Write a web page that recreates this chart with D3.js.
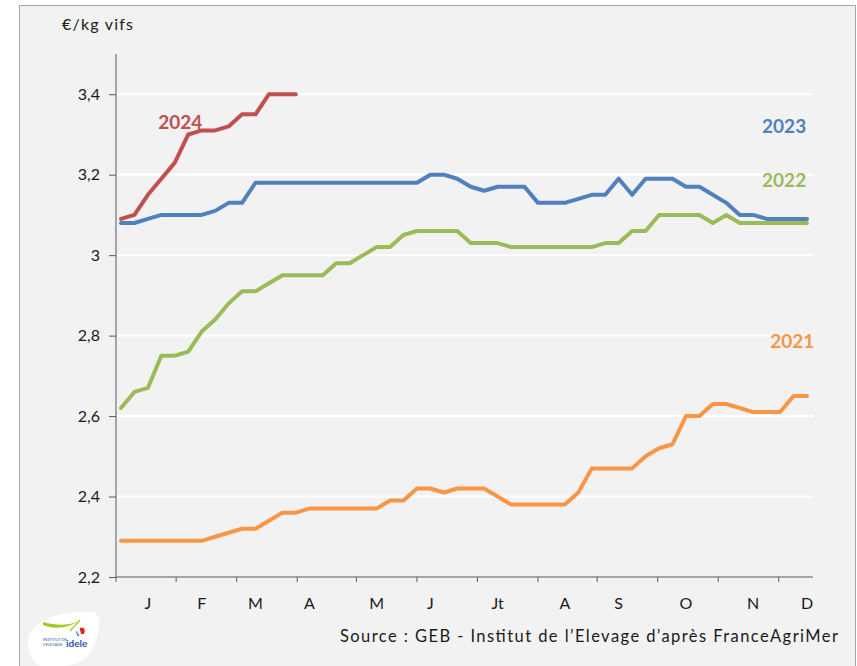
<!DOCTYPE html>
<html lang="fr">
<head>
<meta charset="UTF-8">
<title>Prix €/kg vifs</title>
<style>
  body { margin: 0; background: #fff; }
  svg { display: block; }
  text { font-family: Lato, "Open Sans", sans-serif; fill: #1a1a1a; }
</style>
<script src="https://d3js.org/d3.v7.min.js"></script>
</head>
<body>
<div id="chart"></div>
<script>
// weekly prices, week 1..52
const s2021 = [2.29, 2.29, 2.29, 2.29, 2.29, 2.29, 2.29, 2.30, 2.31, 2.32, 2.32, 2.34, 2.36, 2.36,
  2.37, 2.37, 2.37, 2.37, 2.37, 2.37, 2.39, 2.39, 2.42, 2.42, 2.41, 2.42, 2.42, 2.42, 2.40,
  2.38, 2.38, 2.38, 2.38, 2.38, 2.41, 2.47, 2.47, 2.47, 2.47, 2.50, 2.52, 2.53, 2.60, 2.60,
  2.63, 2.63, 2.62, 2.61, 2.61, 2.61, 2.65, 2.65];
const s2022 = [2.62, 2.66, 2.67, 2.75, 2.75, 2.76, 2.81, 2.84, 2.88, 2.91, 2.91, 2.93, 2.95, 2.95,
  2.95, 2.95, 2.98, 2.98, 3.00, 3.02, 3.02, 3.05, 3.06, 3.06, 3.06, 3.06, 3.03, 3.03, 3.03,
  3.02, 3.02, 3.02, 3.02, 3.02, 3.02, 3.02, 3.03, 3.03, 3.06, 3.06, 3.10, 3.10, 3.10, 3.10,
  3.08, 3.10, 3.08, 3.08, 3.08, 3.08, 3.08, 3.08];
const s2023 = [3.08, 3.08, 3.09, 3.10, 3.10, 3.10, 3.10, 3.11, 3.13, 3.13, 3.18, 3.18, 3.18, 3.18,
  3.18, 3.18, 3.18, 3.18, 3.18, 3.18, 3.18, 3.18, 3.18, 3.20, 3.20, 3.19, 3.17, 3.16, 3.17,
  3.17, 3.17, 3.13, 3.13, 3.13, 3.14, 3.15, 3.15, 3.19, 3.15, 3.19, 3.19, 3.19, 3.17, 3.17,
  3.15, 3.13, 3.10, 3.10, 3.09, 3.09, 3.09, 3.09];
const s2024 = [3.09, 3.10, 3.15, 3.19, 3.23, 3.30, 3.31, 3.31, 3.32, 3.35, 3.35, 3.40, 3.40, 3.40];

const monthLabels = ["J", "F", "M", "A", "M", "J", "Jt", "A", "S", "O", "N", "D"];
const monthLabelWeeks = [3, 7, 11, 15, 20, 24, 29, 34, 38, 43, 48, 52];
const monthTickWeeks = [0.63, 5.1, 9.6, 14.1, 18.5, 23.0, 27.5, 32.0, 36.4, 40.9, 45.4, 49.9];
const yTicks = [2.2, 2.4, 2.6, 2.8, 3.0, 3.2, 3.4];

const series = [
  { name: "2021", values: s2021, color: "#f79646", lx: 50.9, ly: 2.786 },
  { name: "2022", values: s2022, color: "#9bbb59", lx: 50.3, ly: 3.186 },
  { name: "2023", values: s2023, color: "#4f81bd", lx: 50.3, ly: 3.32 },
  { name: "2024", values: s2024, color: "#c0504d", lx: 5.4, ly: 3.33 }
];

const width = 857, height = 666;
const svg = d3.select("#chart").append("svg")
  .attr("width", width).attr("height", height);

// panel
svg.append("rect")
  .attr("x", 19.5).attr("y", 5.5)
  .attr("width", 836).attr("height", 670)
  .attr("fill", "#f2f2f2").attr("stroke", "#a6a6a6");

const x = d3.scaleLinear().domain([1, 52]).range([121, 807]);
const y = d3.scaleLinear().domain([2.2, 3.5]).range([577, 54]);
const axisLeft = 116, axisRight = 813;

// gridlines
svg.append("g").selectAll("line")
  .data(yTicks.slice(1))
  .join("line")
  .attr("x1", axisLeft).attr("x2", axisRight)
  .attr("y1", d => y(d)).attr("y2", d => y(d))
  .attr("stroke", "#ffffff").attr("stroke-width", 2);

const fmt = d => (Math.round(d * 10) / 10).toString().replace(".", ",");

// y axis
const yAxis = svg.append("g")
  .attr("transform", `translate(${axisLeft},0)`)
  .call(d3.axisLeft(y).tickValues(yTicks).tickFormat(fmt).tickSize(7).tickPadding(9));
yAxis.select(".domain").attr("stroke", "#595959").attr("d", `M0,${y(3.5)}V${y(2.2)}`);
yAxis.selectAll(".tick line").attr("stroke", "#595959");
yAxis.selectAll("text").style("font-size", "16px").attr("fill", "#1a1a1a")
  .style("font-family", "Lato, sans-serif");

// x axis
const xg = svg.append("g");
xg.append("line")
  .attr("x1", axisLeft).attr("x2", axisRight)
  .attr("y1", y(2.2)).attr("y2", y(2.2))
  .attr("stroke", "#595959");
xg.selectAll("line.tick")
  .data(monthTickWeeks)
  .join("line").attr("class", "tick")
  .attr("x1", d => x(d)).attr("x2", d => x(d))
  .attr("y1", y(2.2)).attr("y2", y(2.2) + 5)
  .attr("stroke", "#595959");
xg.selectAll("text")
  .data(monthLabels)
  .join("text")
  .attr("x", (d, i) => x(monthLabelWeeks[i]))
  .attr("y", y(2.2) + 32)
  .attr("text-anchor", "middle")
  .style("font-size", "16px")
  .text(d => d);

// lines
const line = d3.line()
  .x((d, i) => x(i + 1))
  .y(d => y(d));

svg.append("g").selectAll("path")
  .data(series)
  .join("path")
  .attr("d", d => line(d.values))
  .attr("fill", "none")
  .attr("stroke", d => d.color)
  .attr("stroke-width", 4)
  .attr("stroke-linejoin", "round")
  .attr("stroke-linecap", "round");

// year labels
svg.append("g").selectAll("text")
  .data(series)
  .join("text")
  .attr("x", d => x(d.lx))
  .attr("y", d => y(d.ly))
  .attr("dy", "0.35em")
  .attr("text-anchor", "middle")
  .style("font-size", "19px")
  .style("font-weight", "bold")
  .style("fill", d => d.color)
  .text(d => d.name);

// unit label
svg.append("text")
  .attr("x", 62).attr("y", 30)
  .attr("textLength", 71)
  .style("font-size", "16px")
  .text("€/kg vifs");

// source
svg.append("text")
  .attr("x", 340).attr("y", 642)
  .attr("textLength", 498)
  .style("font-size", "16.5px")
  .text("Source : GEB - Institut de l’Elevage d’après FranceAgriMer");

// logo
const logo = svg.append("g");
logo.append("path")
  .attr("d", "M28,640 C30,622 60,610 92,612 C102,614 100,626 96,640 C92,656 80,666 60,666 L40,666 C30,660 27,650 28,640 Z")
  .attr("fill", "#ffffff");
logo.append("path")
  .attr("d", "M43,625 C55,630 70,628 82,619 C72,626 58,626 43,622 Z")
  .attr("fill", "#a5c823");
logo.append("path")
  .attr("d", "M70,631 L80,620")
  .attr("stroke", "#a5c823").attr("stroke-width", 1.2);
logo.append("path")
  .attr("d", "M80,628 C84,626 86,630 84,634 L81,634 C81,631 79,630 80,628 Z")
  .attr("fill", "#e2231a");
logo.append("path")
  .attr("d", "M77,630 C77,633 78,635 80,635 L78,636 C76,634 76,632 77,630 Z")
  .attr("fill", "#2a5aa8");
logo.append("text")
  .attr("x", 43).attr("y", 641)
  .style("font-size", "4px").style("fill", "#2a5aa8")
  .text("INSTITUT DE");
logo.append("text")
  .attr("x", 43).attr("y", 646)
  .style("font-size", "4px").style("fill", "#2a5aa8")
  .text("L'ELEVAGE");
logo.append("text")
  .attr("x", 66).attr("y", 647)
  .style("font-size", "10px").style("font-weight", "bold").style("fill", "#2a5aa8")
  .text("idele");
</script>
</body>
</html>
